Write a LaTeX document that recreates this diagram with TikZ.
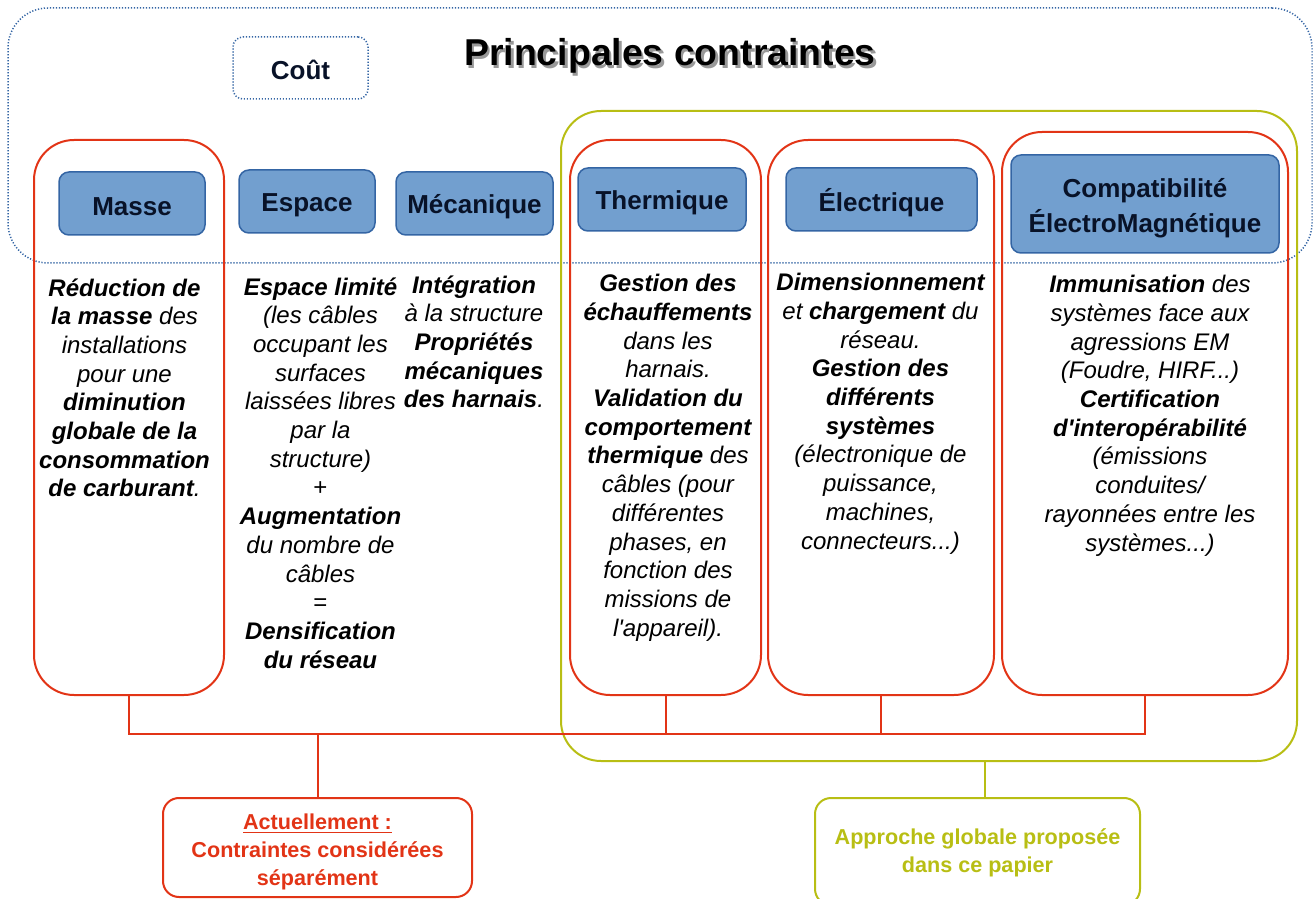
\documentclass[tikz,border=0pt]{standalone}
\usepackage{fontspec}
\setmainfont{Liberation Sans}
\definecolor{cred}{RGB}{226,52,22}
\definecolor{colive}{RGB}{184,190,20}
\definecolor{cbluefill}{RGB}{114,159,207}
\definecolor{cblueline}{RGB}{52,101,164}
\definecolor{cnavy}{RGB}{8,18,40}
\tikzset{
  redbox/.style={draw=cred, line width=1pt, rounded corners=20pt, inner sep=0pt},
  olivebox/.style={draw=colive, line width=1pt, rounded corners=20pt, inner sep=0pt},
  dotbox/.style={draw=cblueline, line width=0.75pt, dash pattern=on 0.6pt off 0.9pt, inner sep=0pt},
  labelbox/.style={draw=cblueline, fill=cbluefill, line width=0.75pt, rounded corners=5pt,
    font=\fontsize{13}{17.5}\selectfont\bfseries, text=cnavy, align=center, inner sep=0pt},
  labeltext/.style={font=\fontsize{13}{17.5}\selectfont\bfseries, text=cnavy, align=center, inner sep=0pt},
  bodytext/.style={font=\fontsize{12}{14.35}\selectfont\itshape, align=center, inner sep=0pt, anchor=north},
  redline/.style={draw=cred, line width=1pt},
  oliveline/.style={draw=colive, line width=1pt},
  bottomtext/.style={font=\fontsize{10.8}{14}\selectfont\bfseries, align=center, inner sep=0pt},
}
\begin{document}
\begin{tikzpicture}[x=0.5pt,y=-0.5pt]
\path[use as bounding box] (0,0) rectangle (1314,899);
% outer dotted frame
\node[dotbox, rounded corners=20pt, minimum width=652pt, minimum height=127.5pt] (frame) at (660,135.5) {};
% title with shadow
\node[font=\fontsize{18.7}{22}\selectfont\bfseries, text=black!40] (titleshadow) at (672.5,58.5) {Principales contraintes};
\node[font=\fontsize{18.7}{22}\selectfont\bfseries] (title) at (670,56) {Principales contraintes};
% cout
\node[dotbox, rounded corners=5pt, minimum width=67.5pt, minimum height=31pt] (cout) at (300.5,68) {};
\node[labeltext] (coutT) at (300.5,70) {Coût};
% olive frame
\node[olivebox, minimum width=368pt, minimum height=325pt] (olive) at (929,436) {};
% red boxes
\node[redbox, minimum width=95pt, minimum height=277.5pt] (masseR) at (129,417.5) {};
\node[redbox, minimum width=95.5pt, minimum height=277.5pt] (thermR) at (665.5,417.5) {};
\node[redbox, minimum width=113pt, minimum height=277.5pt] (elecR) at (881,417.5) {};
\node[redbox, minimum width=143pt, minimum height=281.5pt] (cemR) at (1145,413.5) {};
% blue label boxes
\node[labelbox, minimum width=73pt, minimum height=31.5pt] (masse) at (132,203.5) {};
\node[labeltext] (masseL) at (132,206.5) {Masse};
\node[labelbox, minimum width=68pt, minimum height=31.5pt] (espace) at (307,201.5) {};
\node[labeltext] (espaceL) at (307,205) {Espace};
\node[labelbox, minimum width=78.5pt, minimum height=31.5pt] (meca) at (474.5,203.5) {};
\node[labeltext] (mecaL) at (474.5,206.5) {Mécanique};
\node[labelbox, minimum width=84pt, minimum height=31.5pt] (therm) at (662,199.5) {};
\node[labeltext] (thermL) at (662,203) {Thermique};
\node[labelbox, minimum width=95.5pt, minimum height=31.5pt] (elec) at (881.5,199.5) {};
\node[labeltext] (elecL) at (881.5,202.5) {Électrique};
\node[labelbox, minimum width=134pt, minimum height=49pt] (cem) at (1145,204) {};
\node[labeltext] (cemL) at (1145,208.5) {Compatibilité\\ÉlectroMagnétique};
% body texts
\node[bodytext] (masseT) at (124.5,278) {\textbf{Réduction de}\\\textbf{la masse} des\\installations\\pour une\\\textbf{diminution}\\\textbf{globale de la}\\\textbf{consommation}\\\textbf{de carburant}.};
\node[bodytext] (espaceT) at (320.5,277) {\textbf{Espace limité}\\(les câbles\\occupant les\\surfaces\\laissées libres\\par la\\structure)\\\upshape +\\\textbf{Augmentation}\\du nombre de\\câbles\\\upshape =\\\textbf{Densification}\\\textbf{du réseau}};
\node[bodytext] (mecaT) at (474,275) {\textbf{Intégration}\\à la structure\\\textbf{Propriétés}\\\textbf{mécaniques}\\\textbf{des harnais}.};
\node[bodytext] (thermT) at (668,274) {\textbf{Gestion des}\\\textbf{échauffements}\\dans les\\harnais.\\\textbf{Validation du}\\\textbf{comportement}\\\textbf{thermique} des\\câbles (pour\\différentes\\phases, en\\fonction des\\missions de\\l\textquotesingle appareil).};
\node[bodytext] (elecT) at (880.5,273) {\textbf{Dimensionnement}\\et \textbf{chargement} du\\réseau.\\\textbf{Gestion des}\\\textbf{différents}\\\textbf{systèmes}\\(électronique de\\puissance,\\machines,\\connecteurs...)};
\node[bodytext] (cemT) at (1150,275) {\textbf{Immunisation} des\\systèmes face aux\\agressions EM\\(Foudre, HIRF...)\\\textbf{Certification}\\\textbf{d\textquotesingle interopérabilité}\\(émissions\\conduites/\\rayonnées entre les\\systèmes...)};
% bottom boxes
\node[redbox, rounded corners=8pt, minimum width=154.5pt, minimum height=49.5pt] (actu) at (317.5,847.5) {};
\node[bottomtext, text=cred] (actuT) at (317.5,852) {\underline{Actuellement :}\\Contraintes considérées\\séparément};
\node[olivebox, rounded corners=8pt, minimum width=162.5pt, minimum height=53.5pt] (appro) at (977.5,851.5) {};
\node[bottomtext, text=colive] (approT) at (977.5,853) {Approche globale proposée\\dans ce papier};
% red connectors
\draw[redline] (masseR.south) -- ++(0,38) coordinate (bus) -- (bus -| cemR.south) -- (cemR.south);
\draw[redline] (thermR.south) -- (thermR.south |- bus);
\draw[redline] (elecR.south) -- (elecR.south |- bus);
\draw[redline] (actu.north) -- (actu.north |- bus);
% olive connector
\draw[oliveline] (olive.south -| 985,0) -- (appro.north -| 985,0);
\end{tikzpicture}
\end{document}
